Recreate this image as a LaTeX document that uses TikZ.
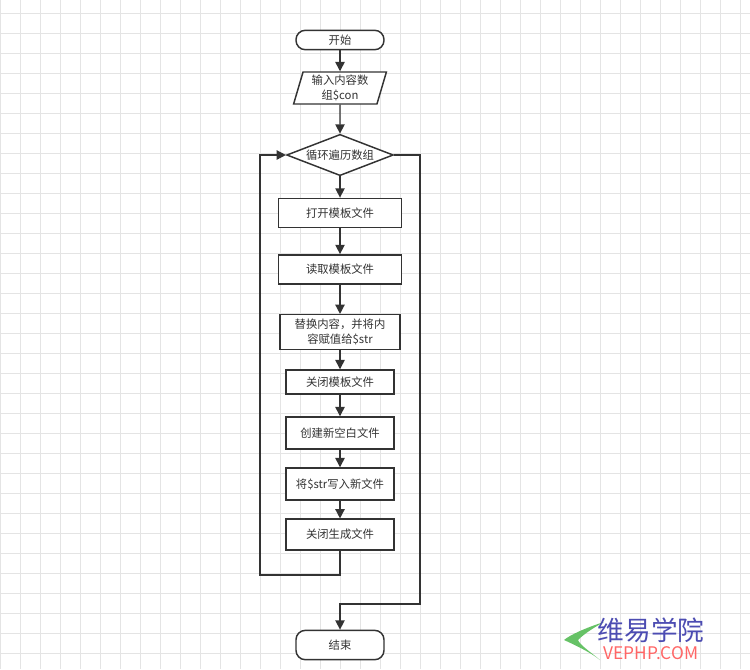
\documentclass[tikz,border=0pt]{standalone}
\usepackage{fontspec}
\setmainfont{Noto Sans CJK SC}
\usetikzlibrary{shapes.geometric,arrows.meta}
\definecolor{ln}{HTML}{333333}
\definecolor{gr}{HTML}{E4E4E4}
\tikzset{
 every node/.style={font=\fontsize{8.5}{11}\selectfont, text=ln},
 box/.style={draw=ln, line width=1.1pt, fill=white, minimum width=#1, minimum height=22pt, inner sep=1pt},
 term/.style={draw=ln, line width=1.1pt, fill=white, rounded corners=7pt, minimum width=66pt, minimum height=14pt},
 conn/.style={draw=ln, line width=1.1pt, -{Triangle[length=7pt,width=7pt]}},
 plain/.style={draw=ln, line width=1.1pt},
}
\begin{document}
\begin{tikzpicture}[x=0.75pt,y=-0.75pt]
\fill[white] (0,0) rectangle (750,669);
\useasboundingbox (0,0) rectangle (750,669);
\foreach \i in {0,20,...,740} \draw[gr,line width=0.4pt] (\i,0) -- (\i,669);
\foreach \j in {13,33,...,669} \draw[gr,line width=0.4pt] (0,\j) -- (750,\j);
\node[term] (s) at (340,40) {开始};
\node[draw=ln, line width=1.1pt, fill=white, trapezium, trapezium left angle=75, trapezium right angle=105, minimum width=70pt, minimum height=24pt, inner sep=1pt, align=center, trapezium stretches=true] (in) at (340,88) {输入内容数\\组\$con};
\node[draw=ln, line width=1.1pt, fill=white, diamond, aspect=2.5, minimum width=80pt, minimum height=31pt, inner sep=0pt] (d) at (340,155) {循环遍历数组};
\node[box=92pt] (b1) at (340,213) {打开模板文件};
\node[box=92pt] (b2) at (340,269.5) {读取模板文件};
\node[box=90pt, minimum height=26pt, align=center] (b3) at (340,332) {替换内容，并将内\\容赋值给\$str};
\node[box=81pt, minimum height=18pt] (b4) at (340,382) {关闭模板文件};
\node[box=81pt, minimum height=24pt] (b5) at (340,433) {创建新空白文件};
\node[box=81pt, minimum height=24pt] (b6) at (340,484) {将\$str写入新文件};
\node[box=81pt, minimum height=23pt] (b7) at (340,534.5) {关闭生成文件};
\node[term, minimum height=22pt] (e) at (340,645) {结束};
\draw[conn] (s) -- (in);
\draw[conn] (in) -- (d);
\draw[conn] (d) -- (b1);
\draw[conn] (b1) -- (b2);
\draw[conn] (b2) -- (b3);
\draw[conn] (b3) -- (b4);
\draw[conn] (b4) -- (b5);
\draw[conn] (b5) -- (b6);
\draw[conn] (b6) -- (b7);
\draw[conn] (b7.south) -- (340,575) -- (260,575) -- (260,155) -- (d.west);
\draw[conn] (d.east) -- (420,155) -- (420,604) -- (340,604) -- (e.north);
\fill[green!60!black!60] (604,622) .. controls (585,628) and (570,635) .. (564,640) .. controls (575,645) and (590,652) .. (600,660) .. controls (588,650) and (580,645) .. (578,640) .. controls (585,633) and (595,627) .. (604,622);
\node[font=\fontsize{20}{22}\selectfont, text=blue!40!gray] (w1) at (651,630) {维易学院};
\node[font=\fontsize{13}{14}\selectfont, text=red!60] (w2) at (651,653) {VEPHP.COM};
\end{tikzpicture}
\end{document}
